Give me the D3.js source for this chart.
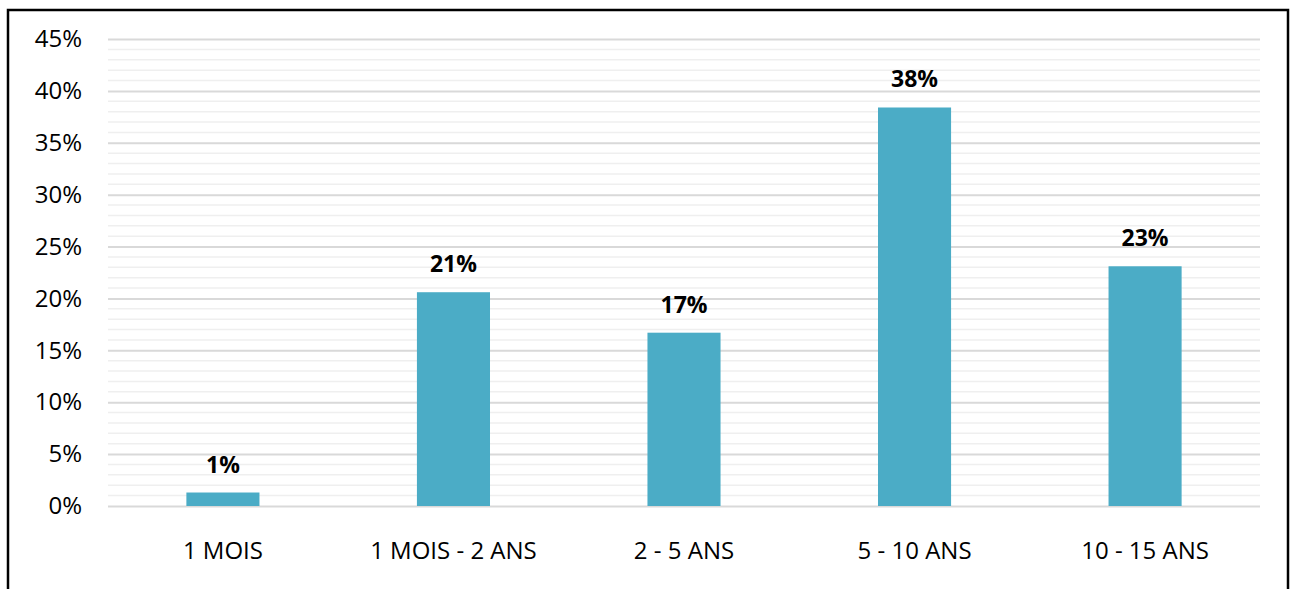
<!DOCTYPE html>
<html>
<head>
<meta charset="utf-8">
<script src="https://cdn.jsdelivr.net/npm/d3@7"></script>
<style>
  html, body { margin: 0; padding: 0; background: #fff; }
  svg { display: block; }
  text { font-family: "Open Sans", "Noto Sans", sans-serif; }
</style>
</head>
<body>
<svg id="chart" width="1295" height="589"></svg>
<script>
// Répartition par ancienneté
const categories = ["1 MOIS", "1 MOIS - 2 ANS", "2 - 5 ANS", "5 - 10 ANS", "10 - 15 ANS"];
const shares = [0.013, 0.206, 0.167, 0.384, 0.231];
const yTicks = [0, 0.05, 0.10, 0.15, 0.20, 0.25, 0.30, 0.35, 0.40, 0.45];
const yMinorTicks = d3.range(0, 46).map(d => d / 100);

const svg = d3.select("#chart");
const plot = { left: 108, right: 1260, top: 39, bottom: 506 };

// outer frame
svg.append("rect")
  .attr("x", 8).attr("y", 10)
  .attr("width", 1280).attr("height", 600)
  .attr("fill", "none").attr("stroke", "#000").attr("stroke-width", 2.5);

const x = d3.scaleBand()
  .domain(categories)
  .range([plot.left, plot.right])
  .paddingInner(0.683)
  .paddingOuter(0.34);

const y = d3.scaleLinear()
  .domain([0, 0.45])
  .range([plot.bottom, plot.top]);

// minor gridlines
svg.append("g")
  .selectAll("line")
  .data(yMinorTicks.filter(v => Math.round(v * 100) % 5 !== 0))
  .join("line")
  .attr("x1", plot.left).attr("x2", plot.right)
  .attr("y1", d => y(d)).attr("y2", d => y(d))
  .attr("stroke", "#efefef").attr("stroke-width", 1.5);

// major gridlines + labels via axis
const yAxis = d3.axisLeft(y)
  .tickValues(yTicks)
  .tickFormat(d3.format(".0%"))
  .tickSize(-(plot.right - plot.left))
  .tickPadding(26);

const gy = svg.append("g")
  .attr("transform", `translate(${plot.left},0)`)
  .call(yAxis);
gy.select(".domain").remove();
gy.selectAll(".tick line").attr("stroke", "#d9d9d9").attr("stroke-width", 2);
gy.selectAll(".tick text")
  .attr("font-size", 24)
  .attr("fill", "#000")
  .attr("font-family", "'Open Sans', sans-serif");

// bars
svg.append("g")
  .selectAll("rect")
  .data(categories.map((c, i) => ({ c, v: shares[i] })))
  .join("rect")
  .attr("x", d => x(d.c))
  .attr("width", x.bandwidth())
  .attr("y", d => y(d.v))
  .attr("height", d => y(0) - y(d.v))
  .attr("fill", "#4bacc6");

// value labels
svg.append("g")
  .selectAll("text")
  .data(categories.map((c, i) => ({ c, v: shares[i] })))
  .join("text")
  .attr("x", d => x(d.c) + x.bandwidth() / 2)
  .attr("y", d => y(d.v) - 20)
  .attr("text-anchor", "middle")
  .attr("font-size", 23)
  .attr("font-weight", "bold")
  .attr("fill", "#000")
  .text(d => Math.round(d.v * 100) + "%");

// category axis labels
const xAxis = d3.axisBottom(x).tickSize(0).tickPadding(0);
const gx = svg.append("g")
  .attr("transform", `translate(0,${plot.bottom})`)
  .call(xAxis);
gx.select(".domain").remove();
gx.selectAll(".tick text")
  .attr("y", 53)
  .attr("dy", null)
  .attr("font-size", 24)
  .attr("fill", "#000")
  .attr("font-family", "'Open Sans', sans-serif");
</script>
</body>
</html>
